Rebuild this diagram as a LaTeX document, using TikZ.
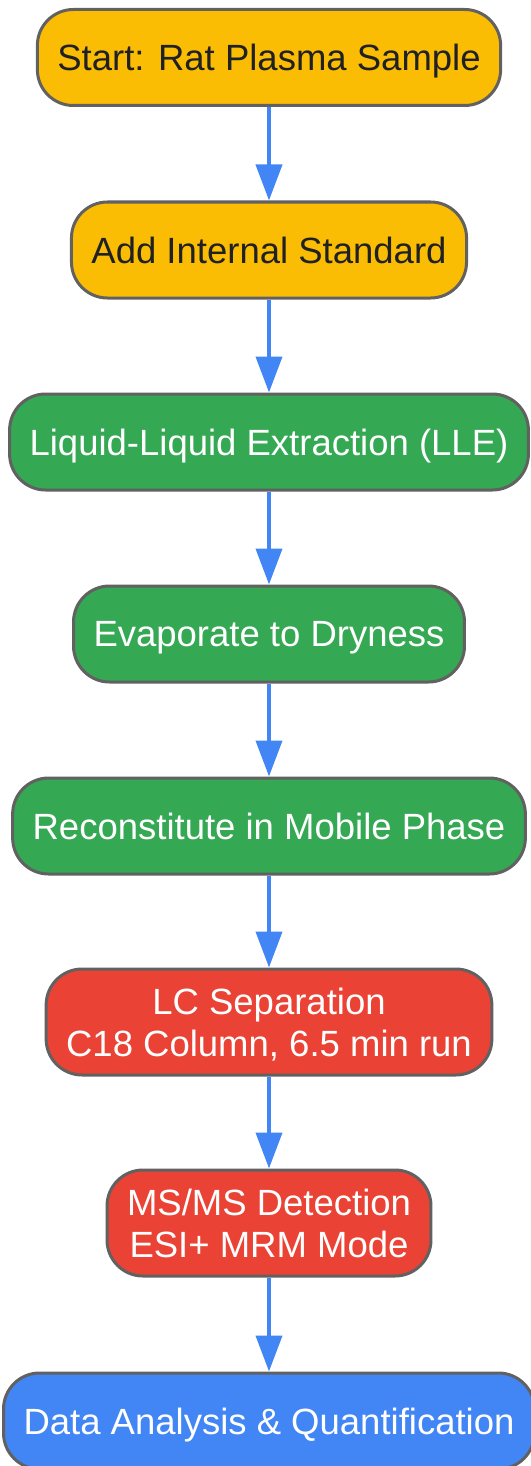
\documentclass[tikz,border=0pt]{standalone}
\usepackage{fontspec}
\setmainfont{Liberation Sans}
\usetikzlibrary{arrows.meta}
\definecolor{gyellow}{HTML}{FBBC04}
\definecolor{ggreen}{HTML}{34A853}
\definecolor{gred}{HTML}{EA4335}
\definecolor{gblue}{HTML}{4285F4}
\definecolor{gborder}{HTML}{616161}
\definecolor{gdark}{HTML}{202124}
\begin{document}
\begin{tikzpicture}[x=1pt,y=-1pt,
  font=\fontsize{36.5}{42}\selectfont,
  box/.style={rectangle,rounded corners=36pt,draw=gborder,line width=3pt,
    minimum height=96pt,inner xsep=20pt,text depth=0pt,align=center},
  flow/.style={-{Triangle[length=36pt,width=26pt]},draw=gblue,line width=4pt}]
  \useasboundingbox (0,0) rectangle (530,1466);
        \node at (269,57.5) [box,fill=gyellow,text=gdark] (c100) {Start: Rat Plasma Sample};
        \node at (269,250) [box,fill=gyellow,text=gdark] (c200) {Add Internal Standard};
        \node at (269,442) [box,fill=ggreen,text=white] (c300) {Liquid-Liquid Extraction (LLE)};
        \node at (269,634) [box,fill=ggreen,text=white] (c400) {Evaporate to Dryness};
        \node at (269,826) [box,fill=ggreen,text=white] (c500) {Reconstitute in Mobile Phase};

        \node at (269,1022) [box,fill=gred,text=white,minimum height=106pt] (c600) {LC Separation\\C18 Column, 6.5 min run};
        \node at (269,1223) [box,fill=gred,text=white,minimum height=106pt] (c700) {MS/MS Detection\\ESI+ MRM Mode};
        \node at (269,1421) [box,fill=gblue,text=white] (c800) {Data Analysis \& Quantification};

        \draw[flow] (c100)--(c200);
        \draw[flow] (c200)--(c300);
        \draw[flow] (c300)--(c400);
        \draw[flow] (c400)--(c500);
        \draw[flow] (c500)--(c600);
        \draw[flow] (c600)--(c700);
        \draw[flow] (c700)--(c800);
    \end{tikzpicture}
\end{document}
